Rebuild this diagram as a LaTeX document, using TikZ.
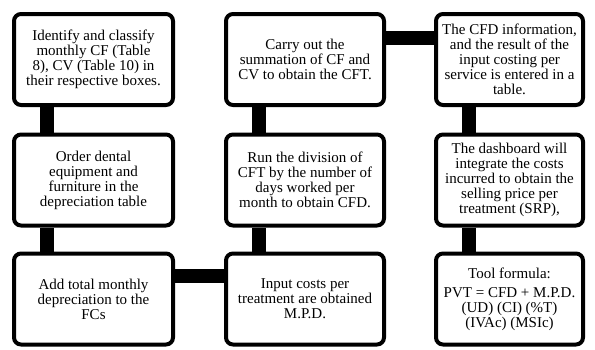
\documentclass[tikz,border=0pt]{standalone}
\usepackage{fontspec}
\setmainfont{Liberation Serif}
\usetikzlibrary{calc, positioning}

\tikzset{
    boxStyle/.style={draw, line width=4pt, rounded corners=7pt, fill=white,
        align=center, inner sep=2pt, minimum height=91pt,
        font=\fontsize{15pt}{15pt}\selectfont},
    linkBar/.style={line width=14pt}
}

\begin{document}
\begin{tikzpicture}[x=1pt, y=-1pt]
\useasboundingbox (0,0) rectangle (595,349);

%第一欄
\node[boxStyle, minimum width=159pt] (nABox) at (93.5,59.5)
    {Identify and classify\\monthly CF (Table\\8), CV (Table 10) in\\their respective boxes.};
\node[boxStyle, minimum width=159pt] (nDBox) at (93.5,180)
    {Order dental\\equipment and\\furniture in the\\depreciation table};
\node[boxStyle, minimum width=159pt] (nGBox) at (93.5,299)
    {Add total monthly\\depreciation to the\\FCs};

%第二欄
\node[boxStyle, minimum width=158pt] (nBBox) at (305,59.5)
    {Carry out the\\summation of CF and\\CV to obtain the CFT.};
\node[boxStyle, minimum width=158pt] (nEBox) at (305,180)
    {Run the division of\\CFT by the number of\\days worked per\\month to obtain CFD.};
\node[boxStyle, minimum width=158pt] (nHBox) at (305,299)
    {Input costs per\\treatment are obtained\\M.P.D.};

%第三欄
\node[boxStyle, minimum width=147pt] (nCBox) at (509.5,59.5)
    {The CFD information,\\and the result of the\\input costing per\\service is entered in a\\table.};
\node[boxStyle, minimum width=147pt] (nFBox) at (509.5,180)
    {The dashboard will\\integrate the costs\\incurred to obtain the\\selling price per\\treatment (SRP),};
\node[boxStyle, minimum width=147pt] (nIBox) at (509.5,299)
    {Tool formula:\\[4pt]PVT = CFD + M.P.D.\\(UD) (CI) (\%T)\\(IVAc) (MSIc)};

%連接線
\draw[linkBar] ($(nABox.south west)+(35,0)$) -- ($(nDBox.north west)+(35,0)$);
\draw[linkBar] ($(nDBox.south west)+(35,0)$) -- ($(nGBox.north west)+(35,0)$);
\draw[linkBar] ($(nGBox.north east)+(0,24)$) -- ($(nHBox.north west)+(0,24)$);
\draw[linkBar] ($(nHBox.north west)+(35,0)$) -- ($(nEBox.south west)+(35,0)$);
\draw[linkBar] ($(nEBox.north west)+(35,0)$) -- ($(nBBox.south west)+(35,0)$);
\draw[linkBar] ($(nBBox.north east)+(0,26)$) -- ($(nCBox.north west)+(0,26)$);
\draw[linkBar] ($(nCBox.south west)+(35,0)$) -- ($(nFBox.north west)+(35,0)$);
\draw[linkBar] ($(nFBox.south west)+(35,0)$) -- ($(nIBox.north west)+(35,0)$);

\end{tikzpicture}
\end{document}
